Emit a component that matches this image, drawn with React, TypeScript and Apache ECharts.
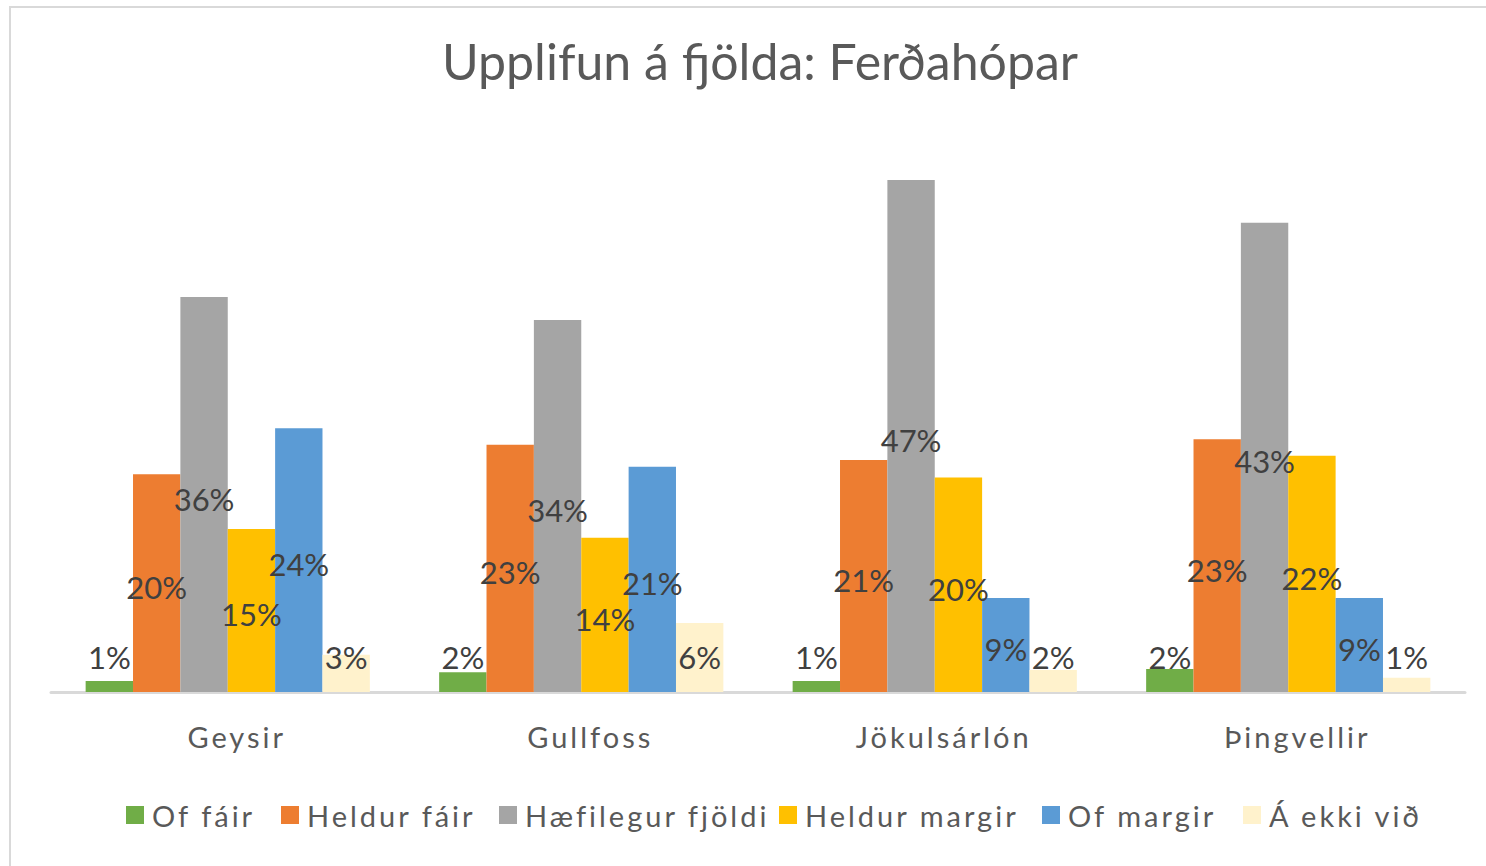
import React, { useEffect, useRef } from "react";
import * as echarts from "echarts";

const categories = ["Geysir", "Gullfoss", "Jökulsárlón", "Þingvellir"];
const seriesNames = ["Of fáir", "Heldur fáir", "Hæfilegur fjöldi", "Heldur margir", "Of margir", "Á ekki við"];
const ofFair = [1.0, 1.8, 1.0, 2.1];
const heldurFair = [19.9, 22.6, 21.2, 23.1];
const haefilegur = [36.1, 34.0, 46.8, 42.9];
const heldurMargir = [14.9, 14.1, 19.6, 21.6];
const ofMargir = [24.1, 20.6, 8.6, 8.6];
const aEkkiVid = [3.4, 6.3, 2.0, 1.3];
const colors = ["#70AD47", "#ED7D31", "#A5A5A5", "#FFC000", "#5B9BD5", "#FFF2CC"];
const legendLeft = [126, 281, 499, 779, 1042, 1243];

export default function App() {
  const ref = useRef<HTMLDivElement>(null);
  useEffect(() => {
    document.body.style.margin = "0";
    const chart = echarts.init(ref.current!, null, { renderer: "svg" });
    const values = [ofFair, heldurFair, haefilegur, heldurMargir, ofMargir, aEkkiVid];
    const spaced = "Lato, spacedtext";
    chart.setOption({
      animation: false,
      backgroundColor: "#ffffff",
      title: {
        text: "Upplifun á fjölda: Ferðahópar",
        left: 437,
        top: 31,
        textStyle: { fontFamily: "Lato", fontSize: 50, fontWeight: "normal", color: "#595959" },
      },
      graphic: [
        {
          type: "rect",
          shape: { x: 10, y: 7, width: 2000, height: 2000 },
          style: { fill: "none", stroke: "#D9D9D9", lineWidth: 2 },
          silent: true,
        },
      ],
      legend: seriesNames.map((n, i) => ({
        data: [n],
        left: legendLeft[i],
        top: 800,
        padding: 0,
        itemWidth: 18,
        itemHeight: 18,
        icon: "rect",
        textStyle: { fontFamily: spaced, fontSize: 29, lineHeight: 30, color: "#595959", padding: [0, 0, 0, 3] },
      })),
      grid: { left: 51, right: 21, top: 145, bottom: 174 },
      xAxis: {
        type: "category",
        data: categories,
        axisLine: { lineStyle: { color: "#D9D9D9", width: 3 } },
        axisTick: { show: false },
        axisLabel: { fontFamily: spaced, fontSize: 29, color: "#595959", margin: 30, padding: [0, 0, 0, 18] },
      },
      yAxis: {
        type: "value",
        min: 0,
        max: 50,
        show: false,
        splitLine: { show: false },
      },
      series: seriesNames.map((n, i) => ({
        name: n,
        type: "bar",
        data: values[i],
        itemStyle: { color: colors[i] },
        barGap: "0%",
        barCategoryGap: "19.6%",
        label: {
          show: true,
          position: "inside",
          formatter: (p: any) => Math.round(p.value) + "%",
          fontFamily: "Lato",
          fontSize: 31,
          color: "#404040",
        },
        labelLayout: (p: any) => {
          const r = p.rect;
          return {
            x: r.x + r.width / 2,
            y: Math.min(r.y + r.height / 2 + 4, r.y + r.height - 35),
            align: "center",
            verticalAlign: "middle",
          };
        },
      })),
    });
    return () => chart.dispose();
  }, []);
  return (
    <>
      <style>{`#chartbox text[style*="spacedtext"]{letter-spacing:3px;}`}</style>
      <div id="chartbox" ref={ref} style={{ width: 1486, height: 866 }} />
    </>
  );
}
